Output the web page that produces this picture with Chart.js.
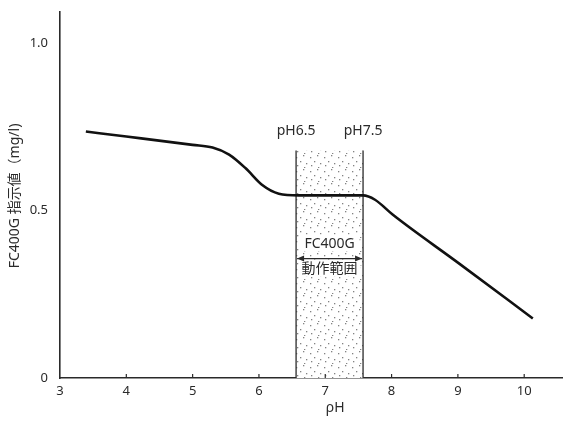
<!DOCTYPE html>
<html>
<head>
<meta charset="utf-8">
<script src="https://cdn.jsdelivr.net/npm/chart.js@4"></script>
<style>
  html, body { margin: 0; padding: 0; background: #fff; }
  #wrap { width: 570px; height: 425px; position: relative; }
</style>
</head>
<body>
<div id="wrap"><canvas id="chart"></canvas></div>
<script>
// values
const phValues = [3.39, 4.0, 5.0, 5.3, 5.55, 5.8, 6.05, 6.3, 6.6, 7.0, 7.57, 7.75, 8.02, 9.0, 10.13];
const readings = [0.737, 0.722, 0.697, 0.689, 0.668, 0.627, 0.577, 0.551, 0.546, 0.546, 0.546, 0.533, 0.488, 0.345, 0.178];
const xTicks = [3, 4, 5, 6, 7, 8, 9, 10];
const yTicks = [0, 0.5, 1.0];
const yTickLabels = ['0', '0.5', '1.0'];
const bandRange = [6.56, 7.57];
const bandTop = 0.68;
const bandLabels = ['pH6.5', 'pH7.5'];
const bandText = ['FC400G', '動作範囲'];
const xTitle = 'ρH';
const yTitle = 'FC400G 指示値（mg/l)';

const FONT = '"Noto Sans", "Noto Sans CJK JP", sans-serif';
const INK = '#2a2a2a';

// stipple pattern for the operating range
function makeDots() {
    const c = document.createElement('canvas');
    c.width = 14; c.height = 14;
    const g = c.getContext('2d');
    g.fillStyle = '#fff';
    g.fillRect(0, 0, 14, 14);
    g.fillStyle = 'rgba(90,90,90,0.75)';
    [[2, 3], [9, 1], [6, 7], [12, 9], [3, 11], [10, 13]].forEach(p => g.fillRect(p[0], p[1], 1.3, 1.3));
    return c;
}

const annotations = {
    id: 'annotations',
    beforeDatasetsDraw(chart) {
        const { ctx, scales: { x, y } } = chart;
        const x1 = x.getPixelForValue(bandRange[0]);
        const x2 = x.getPixelForValue(bandRange[1]);
        const yt = y.getPixelForValue(bandTop);
        const yb = y.getPixelForValue(0);
        ctx.save();
        ctx.fillStyle = ctx.createPattern(makeDots(), 'repeat');
        ctx.fillRect(x1, yt, x2 - x1, yb - yt);
        ctx.strokeStyle = INK;
        ctx.lineWidth = 1.3;
        [x1, x2].forEach(px => {
            ctx.beginPath(); ctx.moveTo(px, yt); ctx.lineTo(px, yb); ctx.stroke();
        });
        // labels over band edges
        ctx.fillStyle = INK;
        ctx.font = '14px ' + FONT;
        ctx.textAlign = 'center';
        ctx.textBaseline = 'middle';
        ctx.fillText(bandLabels[0], x1, yt - 20);
        ctx.fillText(bandLabels[1], x2, yt - 20);
        // text inside band
        const cx = (x1 + x2) / 2;
        const ya = y.getPixelForValue(0.357);
        ctx.fillStyle = '#fff';
        ctx.fillRect(cx - 30, ya - 24, 60, 17);
        ctx.fillRect(cx - 31, ya + 1, 62, 17);
        ctx.fillStyle = INK;
        ctx.font = '14px ' + FONT;
        ctx.fillText(bandText[0], cx, ya - 15);
        ctx.fillText(bandText[1], cx, ya + 10);
        // double arrow
        ctx.lineWidth = 1.2;
        ctx.beginPath(); ctx.moveTo(x1 + 1, ya); ctx.lineTo(x2 - 1, ya); ctx.stroke();
        ctx.beginPath();
        ctx.moveTo(x1 + 1, ya); ctx.lineTo(x1 + 8, ya - 3); ctx.lineTo(x1 + 8, ya + 3); ctx.closePath();
        ctx.moveTo(x2 - 1, ya); ctx.lineTo(x2 - 8, ya - 3); ctx.lineTo(x2 - 8, ya + 3); ctx.closePath();
        ctx.fill();
        ctx.restore();
    },
    afterDraw(chart) {
        const { ctx, scales: { x, y } } = chart;
        const yb = y.getPixelForValue(0);
        ctx.save();
        ctx.strokeStyle = INK;
        ctx.lineWidth = 1.2;
        // small inward ticks on x axis
        xTicks.slice(1).forEach(v => {
            const px = x.getPixelForValue(v);
            ctx.beginPath(); ctx.moveTo(px, yb); ctx.lineTo(px, yb - 4); ctx.stroke();
        });
        // axis titles
        ctx.fillStyle = INK;
        ctx.font = '14px ' + FONT;
        ctx.textAlign = 'center';
        ctx.textBaseline = 'middle';
        ctx.fillText(xTitle, x.getPixelForValue(7.15), 408);
        ctx.translate(15, 196);
        ctx.rotate(-Math.PI / 2);
        ctx.fillText(yTitle, 0, 0);
        ctx.restore();
    }
};

new Chart(document.getElementById('chart'), {
    type: 'line',
    data: {
        datasets: [{
            data: phValues.map((v, i) => ({ x: v, y: readings[i] })),
            borderColor: '#111',
            borderWidth: 2.6,
            pointRadius: 0,
            cubicInterpolationMode: 'monotone',
            fill: false
        }]
    },
    options: {
        responsive: true,
        maintainAspectRatio: false,
        animation: false,
        layout: { padding: { left: 0, right: 8, top: 8, bottom: 0 } },
        plugins: { legend: { display: false }, tooltip: { enabled: false } },
        scales: {
            x: {
                type: 'linear',
                min: 3,
                max: 10.57,
                afterBuildTicks: s => { s.ticks = xTicks.map(v => ({ value: v })); },
                afterFit: s => { s.height = 47; },
                grid: { display: false },
                border: { display: true, color: INK, width: 1.6 },
                ticks: { color: INK, font: { family: FONT, size: 13 }, padding: -3, maxRotation: 0 }
            },
            y: {
                min: 0,
                max: 1.095,
                afterBuildTicks: s => { s.ticks = yTicks.map(v => ({ value: v })); },
                afterFit: s => { s.width = 60; },
                grid: { display: false },
                border: { display: true, color: INK, width: 1.6 },
                ticks: {
                    color: INK,
                    font: { family: FONT, size: 13 },
                    padding: 4,
                    callback: (v) => yTickLabels[yTicks.indexOf(v)]
                }
            }
        }
    },
    plugins: [annotations]
});
</script>
</body>
</html>
